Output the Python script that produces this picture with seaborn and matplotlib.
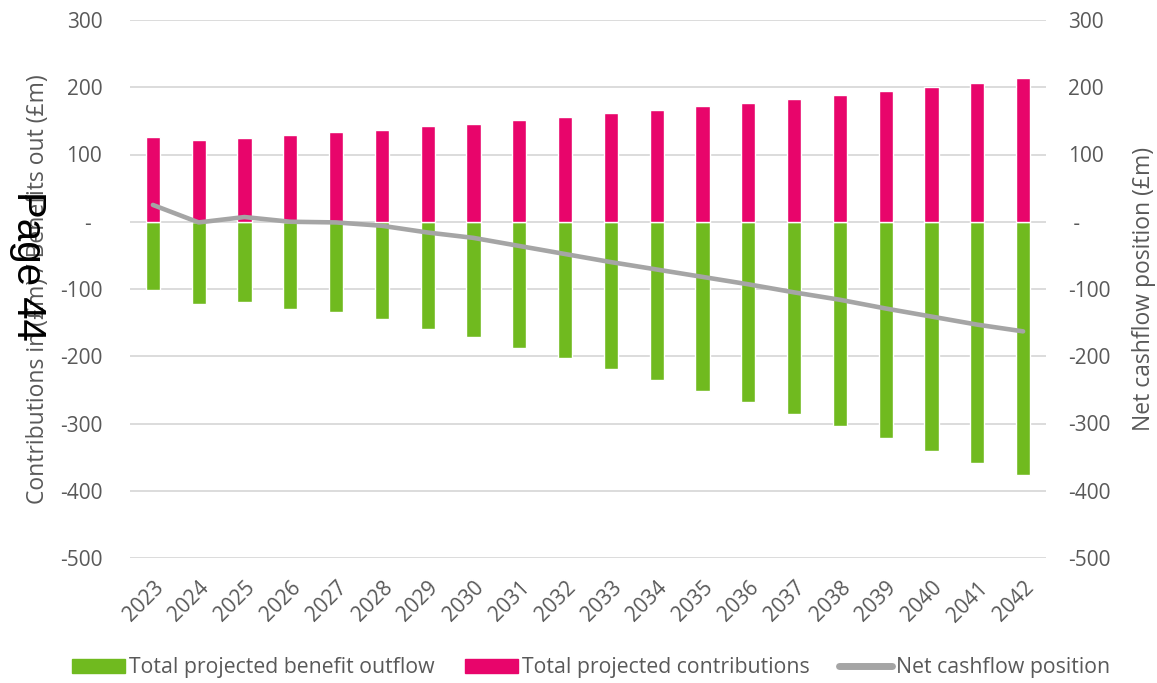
import numpy as np
import pandas as pd
import matplotlib.pyplot as plt
from matplotlib.patches import Patch
from matplotlib.lines import Line2D
import seaborn as sns

years = [str(y) for y in range(2023, 2043)]
contributions = [126, 122, 125, 129, 133, 137, 142, 146, 151, 156,
                 161, 166, 172, 177, 183, 188, 194, 200, 207, 214]
benefit_outflow = [-101, -122, -119, -129, -134, -144, -159, -171, -187, -202,
                   -219, -235, -251, -268, -286, -304, -322, -341, -359, -377]
net_cashflow = [25, -1, 7, 0, -1, -6, -16, -24, -36, -48,
                -60, -71, -82, -93, -105, -116, -129, -141, -153, -163]
y_ticks = [300, 200, 100, 0, -100, -200, -300, -400, -500]
left_tick_labels = ['300', '200', '100', '-  ', '-100', '-200', '-300', '-400', '-500']
right_tick_labels = ['300', '200', '100', ' -', '-100', '-200', '-300', '-400', '-500']

green = '#70BA1F'
pink = '#E8056B'
line_grey = '#A5A5A5'
text_grey = '#595959'
grid_grey = '#D9D9D9'

sns.set_style('white')
plt.rcParams['font.family'] = ['Open Sans', 'DejaVu Sans']

fig = plt.figure(figsize=(11.57, 6.83), dpi=100)
ax = fig.add_axes([130 / 1157, 1 - 558 / 683, (1046 - 130) / 1157, (558 - 20) / 683])

df = pd.DataFrame({'year': years, 'contrib': contributions, 'outflow': benefit_outflow,
                   'net': net_cashflow})

# bars
sns.barplot(data=df, x='year', y='outflow', color=green, saturation=1, width=0.31,
            ax=ax, zorder=2)
sns.barplot(data=df, x='year', y='contrib', color=pink, saturation=1, width=0.31,
            ax=ax, zorder=2)

ax.set_ylim(-500, 300)
ax.set_yticks(y_ticks)
ax.set_yticklabels(left_tick_labels)
ax.yaxis.grid(True, color=grid_grey, linewidth=1.3, zorder=0)
ax.set_axisbelow(True)
for s in ax.spines.values():
    s.set_visible(False)
ax.tick_params(axis='y', length=0, pad=20, labelsize=15, labelcolor=text_grey)
ax.tick_params(axis='x', length=0, pad=14, labelsize=15, labelcolor=text_grey)
plt.setp(ax.get_xticklabels(), rotation=45, ha='right', rotation_mode='anchor')
ax.set_xlabel('')
ax.set_ylabel('Contributions in (£m) / Benefits out (£m)', fontsize=16.5,
              color=text_grey, labelpad=7)

# net cashflow line on the secondary axis
ax2 = ax.twinx()
sns.lineplot(data=df, x='year', y='net', color=line_grey, linewidth=3.3,
             ax=ax2, solid_capstyle='round')
ax2.set_ylim(-500, 300)
ax.set_xlim(-0.5, len(years) - 0.5)
ax2.set_yticks(y_ticks)
ax2.set_yticklabels(right_tick_labels)
for s in ax2.spines.values():
    s.set_visible(False)
ax2.tick_params(axis='y', length=0, pad=16, labelsize=15, labelcolor=text_grey)
ax2.set_ylabel('Net cashflow position (£m)', fontsize=16.5, color=text_grey,
               labelpad=15)
ax2.grid(False)
for lbl in ax2.get_yticklabels():
    lbl.set_horizontalalignment('left')

handles = [Patch(color=green, label='Total projected benefit outflow'),
           Patch(color=pink, label='Total projected contributions'),
           Line2D([], [], color=line_grey, linewidth=5, solid_capstyle='round',
                  label='Net cashflow position')]
leg = fig.legend(handles=handles, loc='center', bbox_to_anchor=(0.511, 1 - 668 / 683),
                 ncol=3, frameon=False, fontsize=15.3, handlelength=2.5,
                 handleheight=0.66, handletextpad=0.19, columnspacing=1.4)
for t in leg.get_texts():
    t.set_color(text_grey)

fig.text(28 / 1157, 1 - 266 / 683, 'Page 44', rotation=-90, fontsize=29,
         family='Liberation Sans', color='black', ha='center', va='center')

fig.savefig('out.png', dpi=100)
